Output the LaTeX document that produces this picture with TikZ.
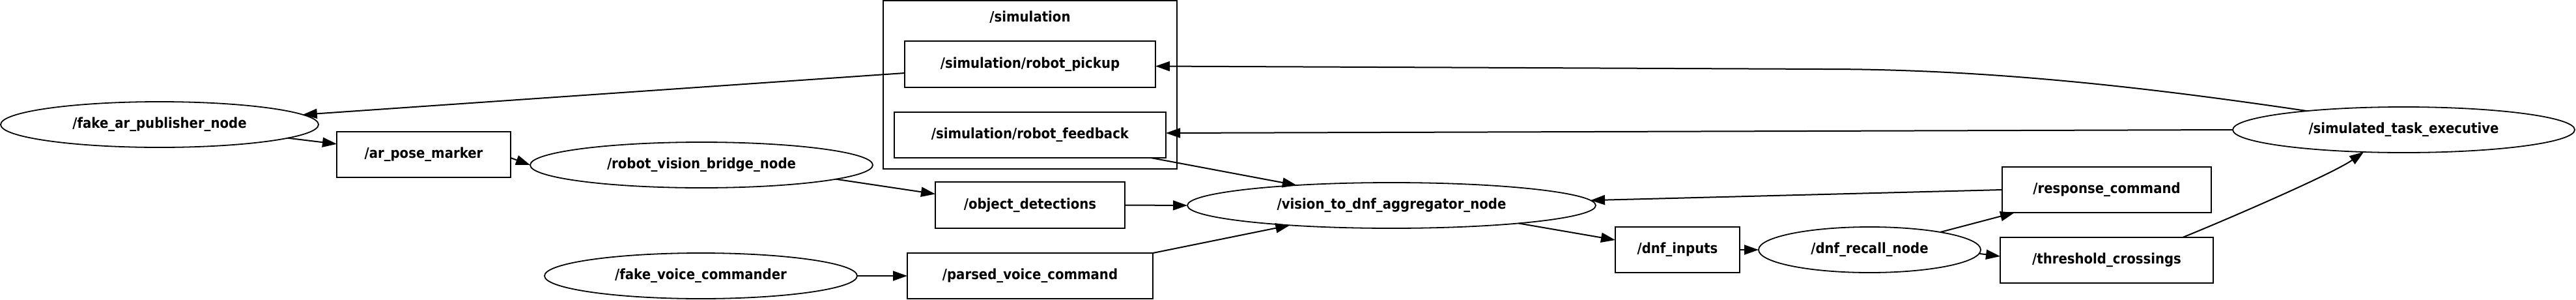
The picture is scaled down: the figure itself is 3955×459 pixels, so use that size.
\documentclass[tikz,border=0pt]{standalone}
\usepackage{fontspec}
\setmainfont{DejaVu Sans}
\newfontfamily\gvfont{DejaVu Sans Bold}[FakeStretch=0.9]
\usetikzlibrary{arrows.meta,shapes.geometric}
\begin{document}
\begin{tikzpicture}[x=1pt,y=-1pt,
  every node/.style={font=\gvfont\fontsize{21.9}{26}\selectfont, inner sep=0pt, outer sep=0pt},
  topic/.style={draw, line width=2.2pt, rectangle, minimum height=70pt},
  rosnode/.style={draw, line width=1.8pt, ellipse, minimum height=70pt},
  conn/.style={line width=2pt, -{Triangle[length=22pt,width=15pt]}},
  cluster/.style={draw, line width=1.6pt, rectangle}
]
\useasboundingbox (0,0) rectangle (3955,459);

% cluster
\node[cluster, minimum width=451pt, minimum height=258pt] (sim) at (1581.5,130) {};
\node (simlabel) at (1581.5,26) {/simulation};

% nodes
\node[rosnode, minimum width=488pt] (fakear) at (245,191) {/fake\_ar\_publisher\_node};
\node[topic, minimum width=267pt] (arpose) at (650.5,237) {/ar\_pose\_marker};
\node[rosnode, minimum width=526pt] (rvb) at (1077,253) {/robot\_vision\_bridge\_node};
\node[rosnode, minimum width=480pt] (fvc) at (1076,423) {/fake\_voice\_commander};
\node[topic, minimum width=385pt, minimum height=71pt] (pickup) at (1581.5,98.5) {/simulation/robot\_pickup};
\node[topic, minimum width=417pt] (feedback) at (1581.5,207) {/simulation/robot\_feedback};
\node[topic, minimum width=291pt, minimum height=71pt] (objdet) at (1581.5,314.5) {/object\_detections};
\node[topic, minimum width=377pt] (parsed) at (1581.5,423) {/parsed\_voice\_command};
\node[rosnode, minimum width=627pt] (agg) at (2136.5,315) {/vision\_to\_dnf\_aggregator\_node};
\node[topic, minimum width=191pt] (dnfin) at (2575.5,383) {/dnf\_inputs};
\node[rosnode, minimum width=341pt] (recall) at (2870.5,383) {/dnf\_recall\_node};
\node[topic, minimum width=321pt] (resp) at (3234.5,291) {/response\_command};
\node[topic, minimum width=327pt] (thresh) at (3234.5,399) {/threshold\_crossings};
\node[rosnode, minimum width=525pt] (ste) at (3690.5,199) {/simulated\_task\_executive};

% connectors
\draw[conn] ([yshift=-13.5pt]pickup.west) -- (fakear);
\draw[conn] (fakear.-6.2) -- (arpose);
\draw[conn] ([yshift=-5pt]arpose.east) -- (rvb.west);
\draw[conn] (rvb.-6.7) -- ([yshift=17pt]objdet.west);
\draw[conn] (objdet.east) -- (agg.west);
\draw[conn] ([xshift=-23pt]feedback.south east) -- (agg.168.9);
\draw[conn] (parsed.north east) -- (agg.191);
\draw[conn] (fvc.east) -- (parsed.west);
\draw[conn] (agg.-8.5) -- ([yshift=15pt]dnfin.west);
\draw[conn] (dnfin.east) -- (recall.west);
\draw[conn] (recall.14) -- ([xshift=19pt]resp.south west);
\draw[conn] (recall.-2.4) -- ([yshift=6pt]thresh.west);
\draw[conn] (resp.west) -- (agg);
\draw[conn] ([xshift=-47pt]thresh.north east) .. controls +(50,-20) and +(-50,35) .. (ste.-151.5);
\draw[conn] (ste.169.8) .. controls +(-250,-37) and +(250,0) .. (2800,106) -- ([yshift=-3pt]pickup.east);
\draw[conn] (ste.west) -- ([yshift=3pt]feedback.east);
\end{tikzpicture}
\end{document}
